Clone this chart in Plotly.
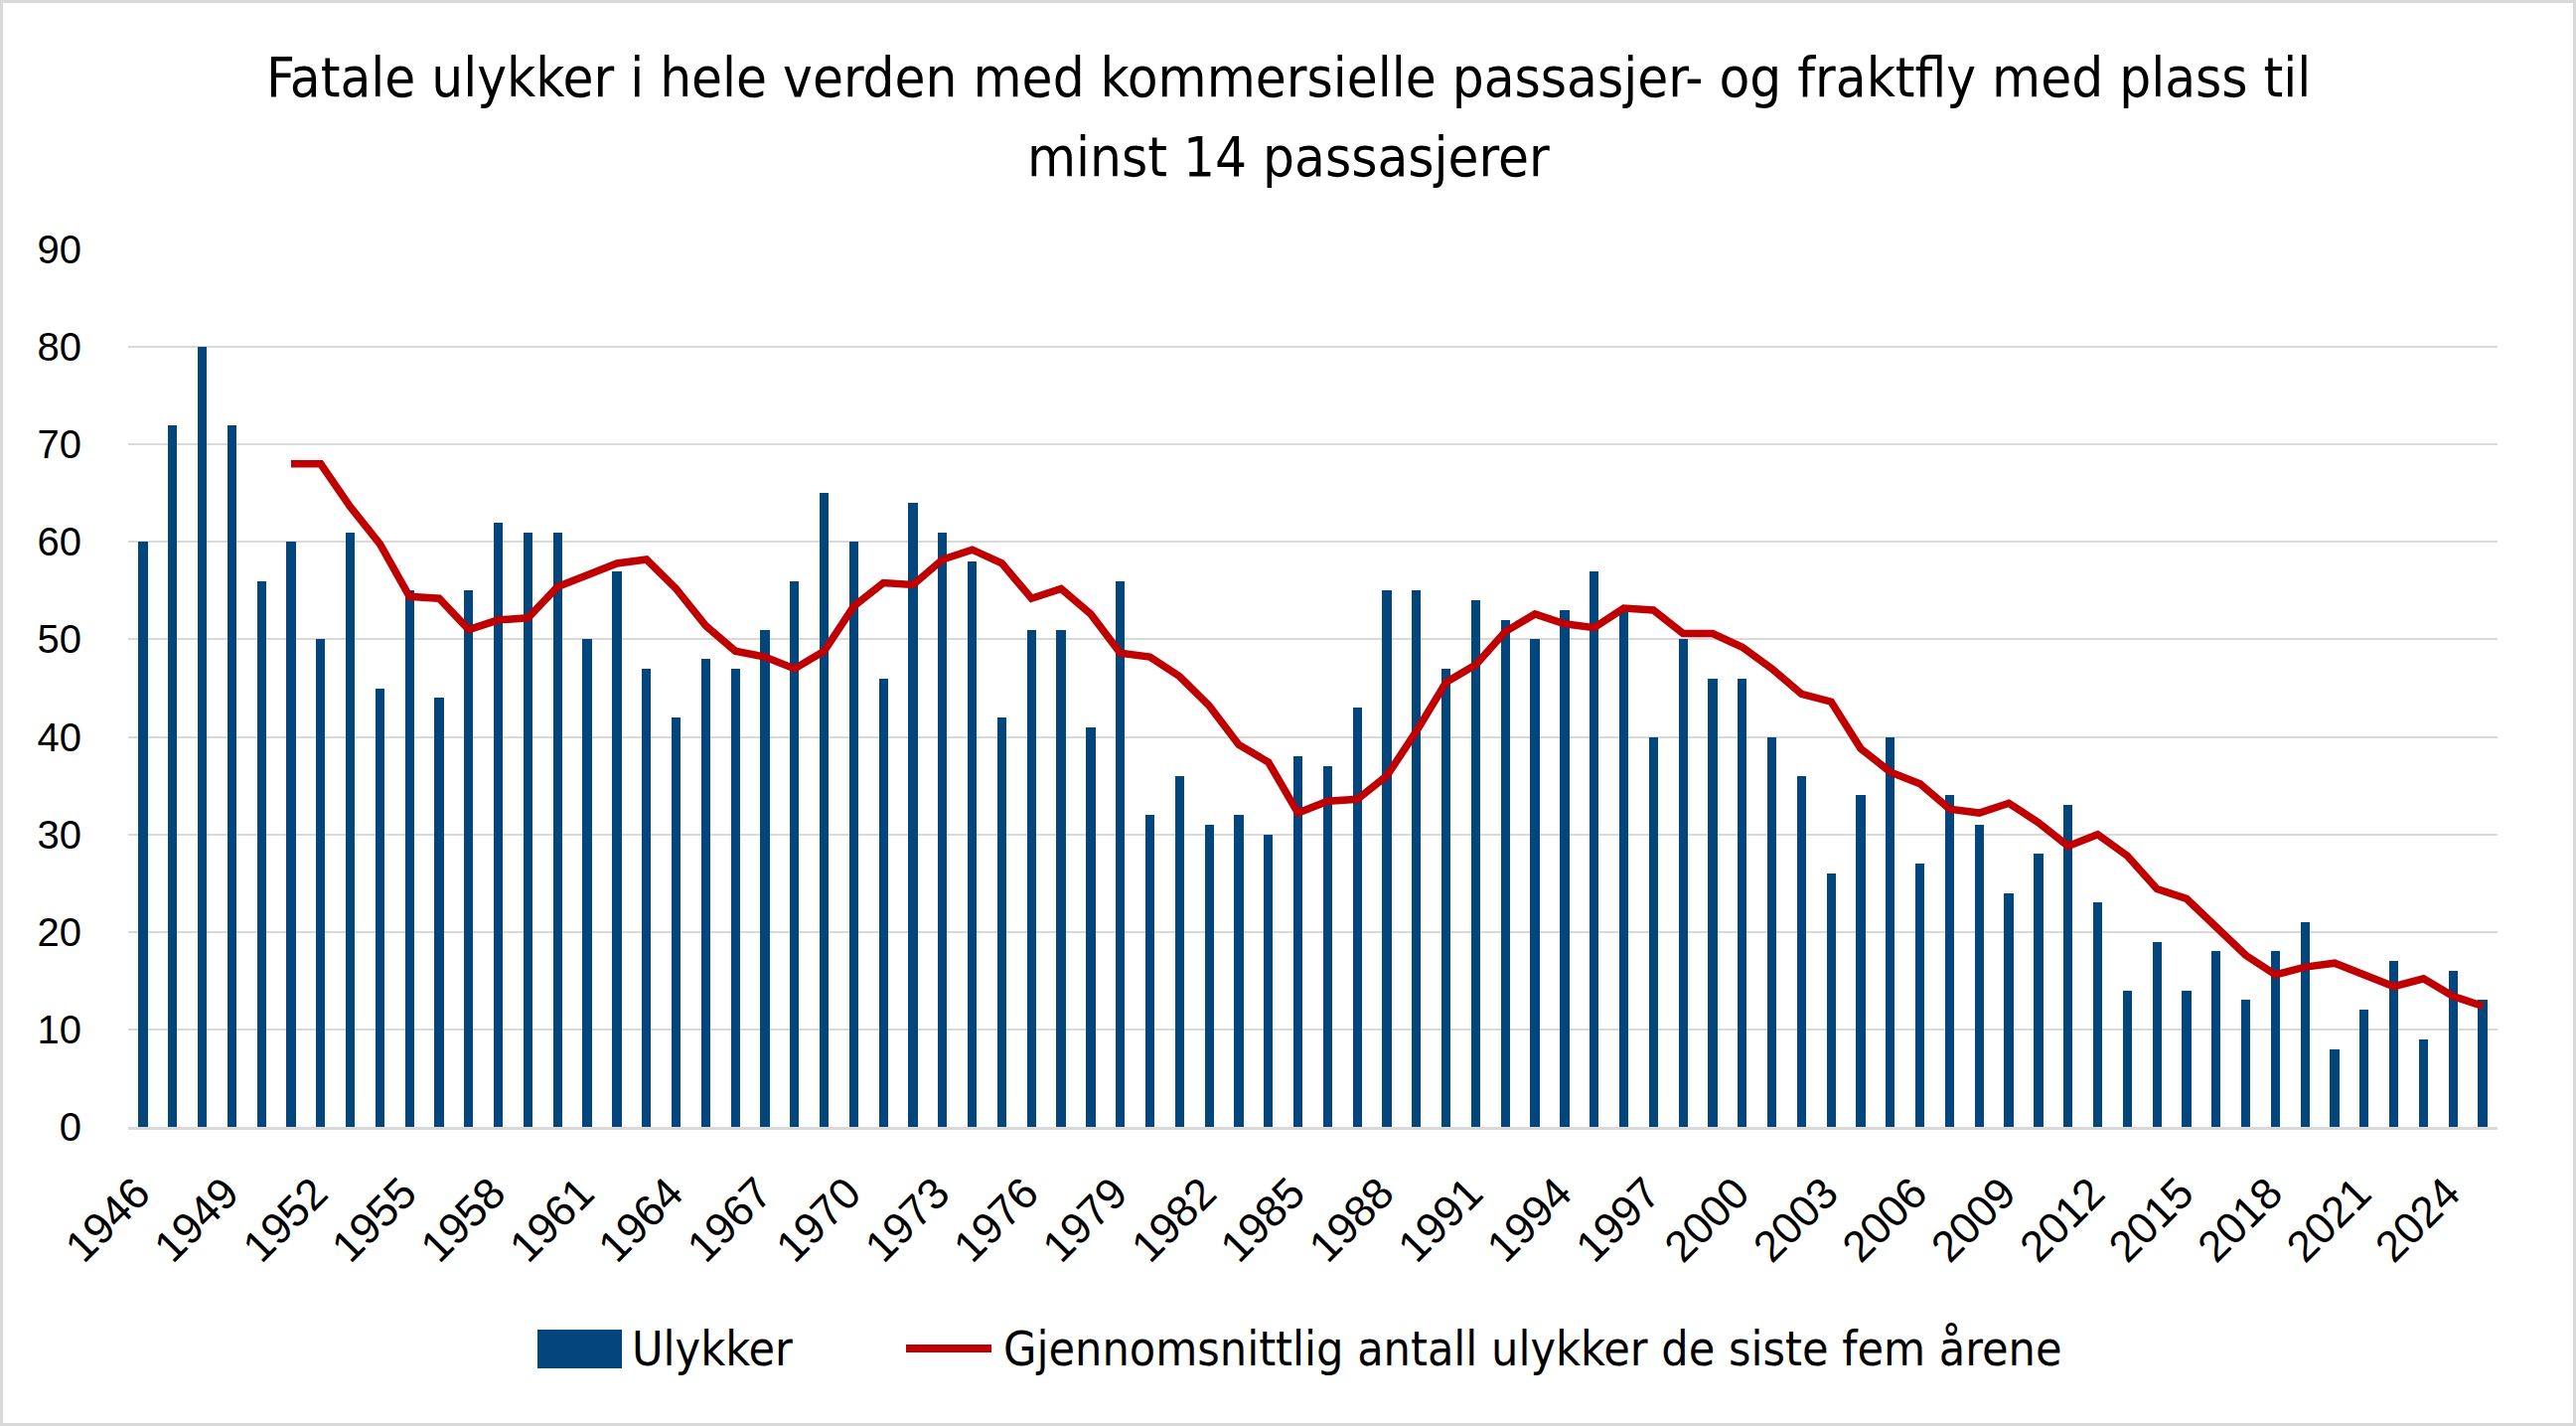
import plotly.graph_objects as go

years = list(range(1946, 2026))
ulykker = [60, 72, 80, 72, 56, 60, 50, 61, 45, 55,
           44, 55, 62, 61, 61, 50, 57, 47, 42, 48,
           47, 51, 56, 65, 60, 46, 64, 61, 58, 42,
           51, 51, 41, 56, 32, 36, 31, 32, 30, 38,
           37, 43, 55, 55, 47, 54, 52, 50, 53, 57,
           53, 40, 50, 46, 46, 40, 36, 26, 34, 40,
           27, 34, 31, 24, 28, 33, 23, 14, 19, 14,
           18, 13, 18, 21, 8, 12, 17, 9, 16, 13]

snitt_years = list(range(1951, 2026))
snitt = [68.0, 68.0, 63.6, 59.8, 54.4, 54.2, 51.0, 52.0, 52.2, 55.4,
         56.6, 57.8, 58.2, 55.2, 51.4, 48.8, 48.2, 47.0, 48.8, 53.4,
         55.8, 55.6, 58.2, 59.2, 57.8, 54.2, 55.2, 52.6, 48.6, 48.2,
         46.2, 43.2, 39.2, 37.4, 32.2, 33.4, 33.6, 36.0, 40.6, 45.6,
         47.4, 50.8, 52.6, 51.6, 51.2, 53.2, 53.0, 50.6, 50.6, 49.2,
         47.0, 44.4, 43.6, 38.8, 36.4, 35.2, 32.6, 32.2, 33.2, 31.2,
         28.8, 30.0, 27.8, 24.4, 23.4, 20.6, 17.6, 15.6, 16.4, 16.8,
         15.6, 14.4, 15.2, 13.4, 12.4]

tick_years = list(range(1946, 2026, 3))
y_ticks = [0, 10, 20, 30, 40, 50, 60, 70, 80, 90]

title_line1 = "Fatale ulykker i hele verden med kommersielle passasjer- og fraktfly med plass til"
title_line2 = "minst 14 passasjerer"
name_bar = "Ulykker"
name_line = "Gjennomsnittlig antall ulykker de siste fem årene"

BAR_COLOR = "#03467E"
LINE_COLOR = "#C00000"

W, H = 2593, 1435
L, R, T, B = 129, 79, 251, 301
pw, ph = W - L - R, H - T - B


def px(xp):
    return (xp - L) / pw


def py(yp):
    return (H - B - yp) / ph


narrow = "Liberation Sans Narrow, Arial Narrow, DejaVu Sans Condensed, sans-serif"
regular = "Liberation Sans, Arial, sans-serif"

fig = go.Figure()
fig.add_trace(go.Bar(
    x=years, y=ulykker, name=name_bar,
    marker=dict(color=BAR_COLOR, line=dict(width=0)),
    width=0.31, showlegend=False,
))
fig.add_trace(go.Scatter(
    x=snitt_years, y=snitt, mode="lines", name=name_line,
    line=dict(color=LINE_COLOR, width=7.5, shape="linear"),
    showlegend=False,
))

legend_y = 1357
shapes = [
    dict(type="rect", xref="paper", yref="paper",
         x0=px(1.5), x1=px(W - 1.5), y0=py(H - 1.5), y1=py(1.5),
         line=dict(color="#D9D9D9", width=3), fillcolor="rgba(0,0,0,0)", layer="below"),
    # legend swatches
    dict(type="rect", xref="paper", yref="paper",
         x0=px(541), x1=px(626), y0=py(1377), y1=py(1338),
         line=dict(width=0), fillcolor=BAR_COLOR),
    dict(type="line", xref="paper", yref="paper",
         x0=px(912), x1=px(998), y0=py(legend_y), y1=py(legend_y),
         line=dict(color=LINE_COLOR, width=8)),
]

annotations = [
    dict(text=title_line1, xref="paper", yref="paper",
         x=px(W / 2), y=py(78), xanchor="center", yanchor="middle",
         showarrow=False, font=dict(family=narrow, size=56, color="black")),
    dict(text=title_line2, xref="paper", yref="paper",
         x=px(W / 2), y=py(157), xanchor="center", yanchor="middle",
         showarrow=False, font=dict(family=narrow, size=56, color="black")),
    dict(text=name_bar, xref="paper", yref="paper",
         x=px(634), y=py(legend_y), xanchor="left", yanchor="middle",
         showarrow=False, font=dict(family=narrow, size=48, color="black")),
    dict(text=name_line, xref="paper", yref="paper",
         x=px(1008), y=py(legend_y), xanchor="left", yanchor="middle",
         showarrow=False, font=dict(family=narrow, size=48, color="black")),
]

fig.update_layout(
    width=W, height=H,
    margin=dict(l=L, r=R, t=T, b=B),
    paper_bgcolor="white", plot_bgcolor="white",
    showlegend=False,
    bargap=0,
    annotations=annotations,
    shapes=shapes,
)

fig.update_xaxes(
    range=[1945.5, 2025.5],
    tickmode="array", tickvals=tick_years, ticktext=[str(y) for y in tick_years],
    tickangle=-45,
    tickfont=dict(family=regular, size=44, color="black"),
    showgrid=False, zeroline=False,
    showline=True, linecolor="#D9D9D9", linewidth=3,
    ticks="", ticklabelstandoff=20, ticklabelshift=-6,
)
fig.update_yaxes(
    range=[0, 90],
    tickmode="array", tickvals=y_ticks, ticktext=[str(v) for v in y_ticks],
    tickfont=dict(family=regular, size=40, color="black"),
    showgrid=True, gridcolor="#D9D9D9", gridwidth=2,
    zeroline=False, showline=False, ticks="",
    ticklabelstandoff=46,
)

fig.write_html("out.html")
